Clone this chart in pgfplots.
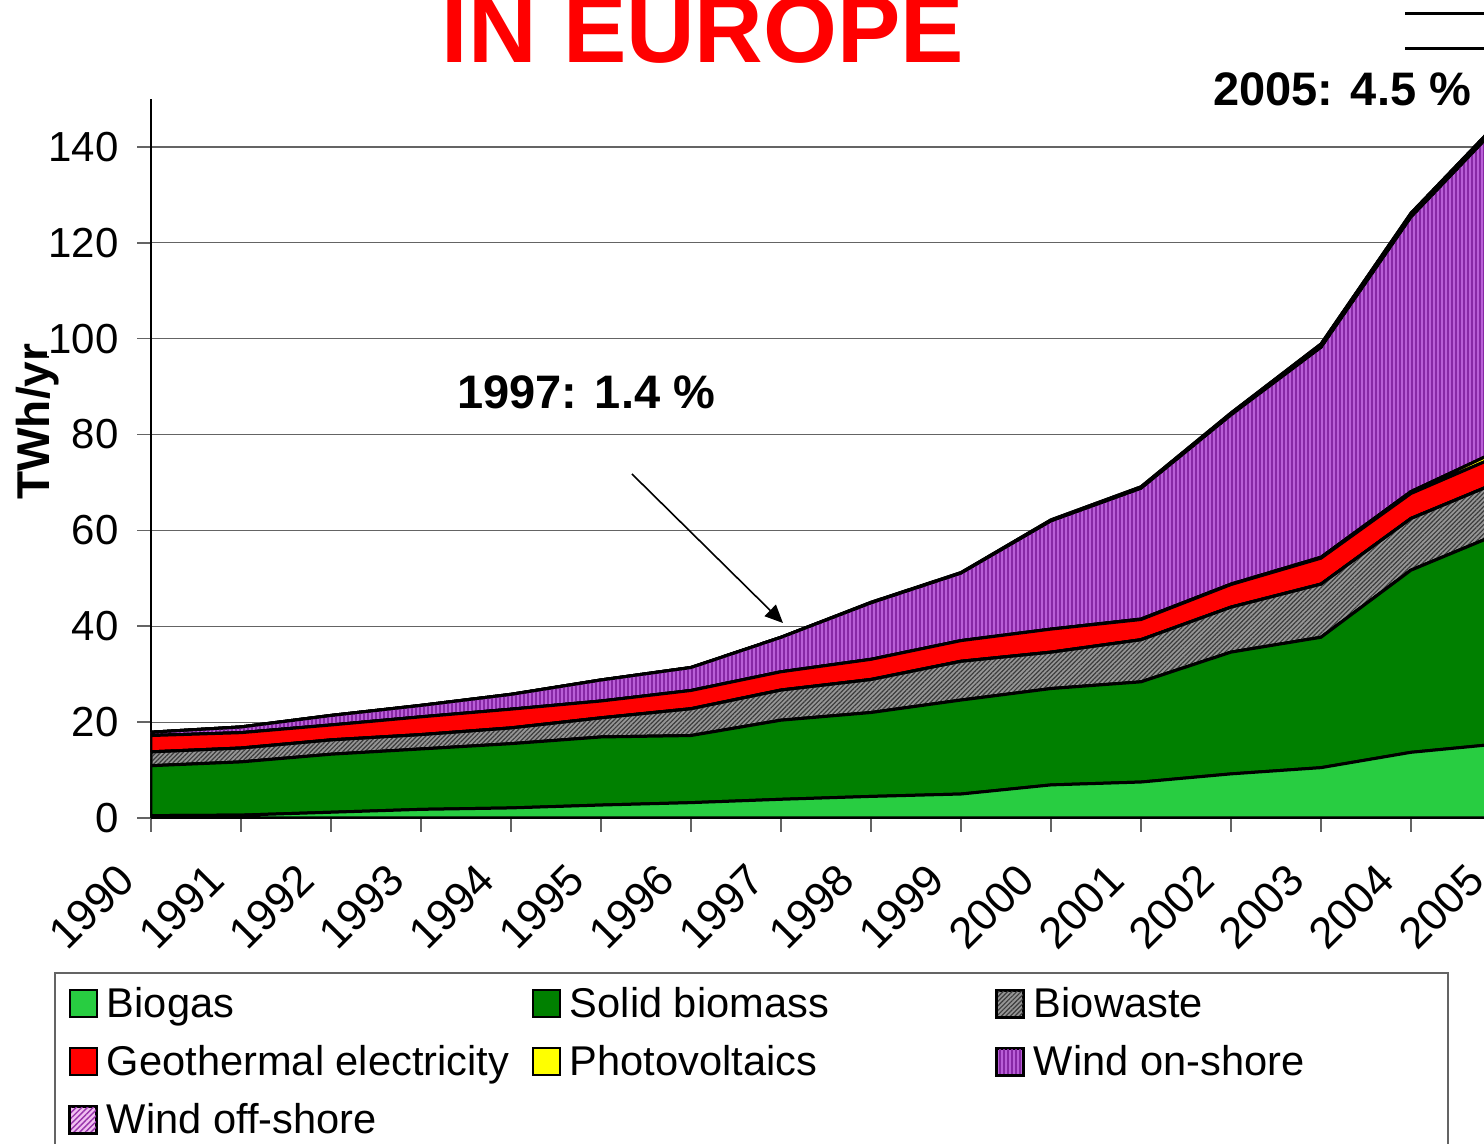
\documentclass[border=0pt]{standalone}
\usepackage{fontspec}
\setmainfont{Liberation Sans}
\usepackage{pgfplots}
\usepackage{pgfplotstable}
\pgfplotsset{compat=1.18}
\usetikzlibrary{patterns.meta, arrows.meta}

\definecolor{biogas}{RGB}{40,205,65}
\definecolor{solidbio}{RGB}{0,128,0}
\definecolor{biowaste}{RGB}{150,150,150}
\definecolor{biowastedark}{RGB}{60,60,60}
\definecolor{geo}{RGB}{255,0,0}
\definecolor{pv}{RGB}{255,255,0}
\definecolor{onshore}{RGB}{185,95,215}
\definecolor{onshoredark}{RGB}{135,40,165}
\definecolor{offshore}{RGB}{240,190,240}
\definecolor{offshoredark}{RGB}{150,50,170}
\definecolor{gridgray}{RGB}{100,100,100}

% electricity from each renewable source, TWh/yr
\pgfplotstableread{
year biogas solid biowaste geo  pv  onshore offshore
1990 0.5   10.4  2.9      3.4  0.0 0.7     0.0
1991 0.6   11.1  2.9      3.2  0.0 1.2     0.0
1992 1.2   12.1  3.0      3.1  0.0 2.0     0.0
1993 1.8   12.6  3.0      3.7  0.0 2.4     0.0
1994 2.1   13.4  3.3      3.9  0.0 3.1     0.0
1995 2.7   14.2  4.0      3.5  0.0 4.4     0.0
1996 3.2   14.0  5.6      3.8  0.0 4.8     0.0
1997 3.9   16.5  6.3      3.8  0.0 7.2     0.0
1998 4.5   17.5  6.9      4.2  0.0 11.8    0.1
1999 5.0   19.6  8.1      4.3  0.0 14.1    0.1
2000 6.9   20.1  7.6      4.8  0.0 22.6    0.2
2001 7.5   20.9  8.8      4.2  0.1 27.3    0.3
2002 9.2   25.4  9.4      4.7  0.1 35.3    0.4
2003 10.5  27.2  11.1     5.4  0.2 43.8    0.7
2004 13.7  38.0  10.8     5.2  0.4 57.3    0.8
2005 15.5  44.0  10.8     5.5  1.1 68.1    0.8
}\energytable

\begin{document}
\begin{tikzpicture}
\path[use as bounding box, clip] (-75.5pt,-163pt) rectangle (666.5pt,409pt);

\node[rotate=90, anchor=base west, inner sep=0pt,
      font=\fontsize{23}{28}\selectfont\bfseries] at (-50.5pt,159pt) {TWh/yr};

\begin{axis}[
  scale only axis, width=675pt, height=359.5pt,
  xmin=1990, xmax=2005, ymin=0, ymax=150,
  axis x line*=bottom, axis y line*=left,
  axis line style={line width=1pt, -},
  xtick={1990,...,2005}, ytick={0,20,...,140},
  ymajorgrids, grid style={gridgray, line width=0.6pt},
  tick align=outside, major tick length=7pt,
  tick style={gridgray, line width=0.8pt},
  /pgf/number format/assume math mode=true,
  /pgf/number format/1000 sep={},
  tick label style={font=\fontsize{21}{25}\selectfont},
  yticklabel style={fill=white, inner sep=1pt, xshift=-8pt},
  xticklabel style={xshift=-10pt, yshift=-17.5pt, rotate=45, anchor=east,
                    font=\fontsize{22}{26}\selectfont},
  stack plots=y,
  legend image code/.code={\draw[#1, line width=1pt] (0pt,-6.75pt) rectangle (13.5pt,6.75pt);},
  legend columns=3,
  legend cell align=left,
  legend style={at={(axis description cs:-0.07185,-0.2142)}, anchor=north west,
    draw=gridgray, line width=1pt, fill=white,
    font=\fontsize{20.8}{25}\selectfont,
    inner xsep=7pt, inner ysep=7pt, row sep=12.5pt,
    nodes={inner sep=0pt},
    /tikz/every odd column/.append style={column sep=4.5pt},
    /tikz/every even column/.append style={column sep=0pt}},
  every axis plot/.append style={draw=black, line width=1.5pt},
]
\addplot[fill=biogas] table[x=year, y=biogas] {\energytable} \closedcycle;
\addlegendentry{\makebox[212.5pt][l]{\rule[-5pt]{0pt}{20pt}Biogas}}
\addplot[fill=solidbio] table[x=year, y=solid] {\energytable} \closedcycle;
\addlegendentry{\makebox[213pt][l]{\rule[-5pt]{0pt}{20pt}Solid biomass}}
\addplot[preaction={fill=biowaste}, pattern={Lines[angle=45,distance=1.6pt,line width=0.6pt]}, pattern color=biowastedark]
  table[x=year, y=biowaste] {\energytable} \closedcycle;
\addlegendentry{\makebox[200pt][l]{\rule[-5pt]{0pt}{20pt}Biowaste}}
\addplot[fill=geo] table[x=year, y=geo] {\energytable} \closedcycle;
\addlegendentry{\makebox[212.5pt][l]{\rule[-5pt]{0pt}{20pt}Geothermal electricity}}
\addplot[fill=pv] table[x=year, y=pv] {\energytable} \closedcycle;
\addlegendentry{\makebox[213pt][l]{\rule[-5pt]{0pt}{20pt}Photovoltaics}}
\addplot[preaction={fill=onshore}, pattern={Lines[angle=90,distance=2pt,line width=0.7pt]}, pattern color=onshoredark]
  table[x=year, y=onshore] {\energytable} \closedcycle;
\addlegendentry{\makebox[200pt][l]{\rule[-5pt]{0pt}{20pt}Wind on-shore}}
\addplot[preaction={fill=offshore}, pattern={Lines[angle=45,distance=2pt,line width=0.7pt]}, pattern color=offshoredark]
  table[x=year, y=offshore] {\energytable} \closedcycle;
\addlegendentry{\makebox[212.5pt][l]{\rule[-5pt]{0pt}{20pt}Wind off-shore}}

\draw[-{Triangle[length=9pt,width=8pt]}, line width=0.8pt]
  (axis cs:1995.344,71.77) -- (axis cs:1997.022,40.68);
\end{axis}

\node[anchor=base, text=red, inner sep=0pt, font=\fontsize{47.5}{56}\selectfont\bfseries]
  at (276pt,377.5pt) {IN EUROPE};
\node[anchor=base west, inner sep=0pt, font=\fontsize{23.5}{28}\selectfont\bfseries]
  at (153pt,204.5pt) {1997: 1.4 \%};
\node[anchor=base west, inner sep=0pt, font=\fontsize{23.5}{28}\selectfont\bfseries]
  at (531pt,356pt) {2005: 4.5 \%};
\draw[line width=1.5pt] (627pt,402pt) -- (700pt,402pt);
\draw[line width=1.5pt] (627pt,384.5pt) -- (700pt,384.5pt);
\end{tikzpicture}
\end{document}
